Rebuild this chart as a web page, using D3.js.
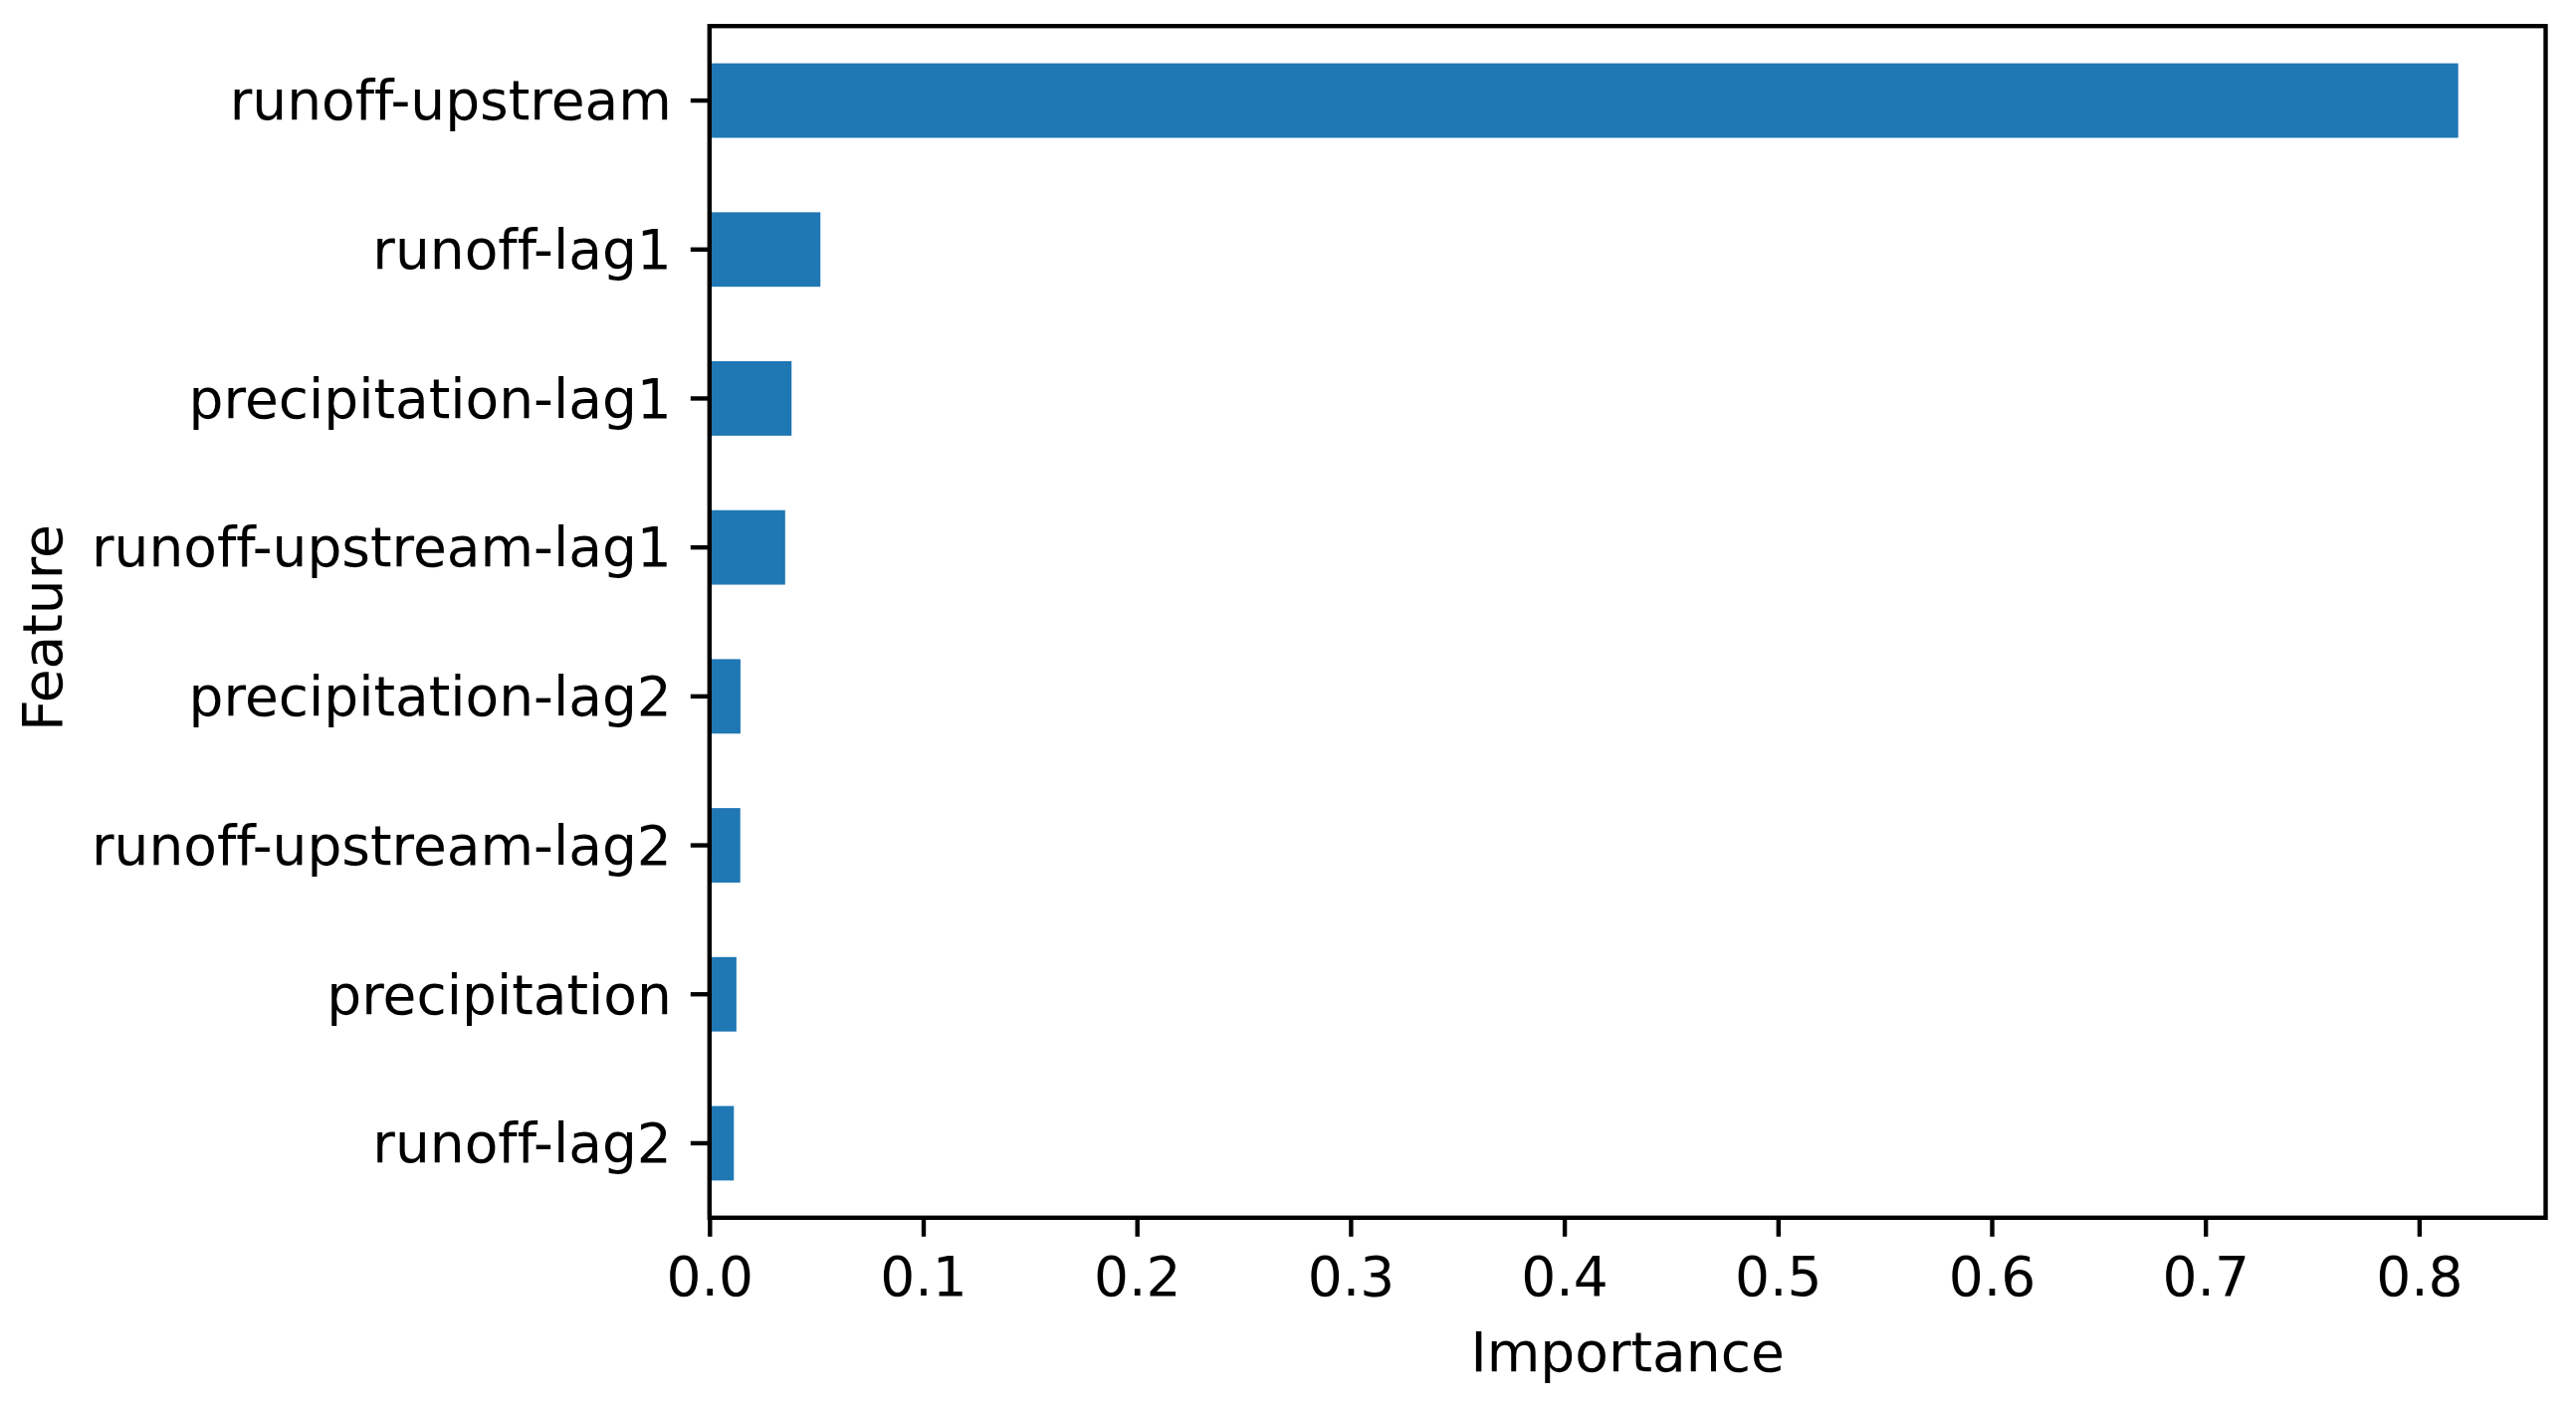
<!DOCTYPE html>
<html>
<head>
<meta charset="utf-8">
<script src="https://cdn.jsdelivr.net/npm/d3@7"></script>
<style>
  html, body { margin: 0; padding: 0; background: #fff; }
  svg { display: block; }
  text { font-family: "DejaVu Sans", sans-serif; fill: #000; font-variant-ligatures: none; font-feature-settings: "liga" 0, "clig" 0; }
</style>
</head>
<body>
<svg id="chart" width="2588" height="1411"></svg>
<script>
// ---- data ----
const features = [
  "runoff-upstream",
  "runoff-lag1",
  "precipitation-lag1",
  "runoff-upstream-lag1",
  "precipitation-lag2",
  "runoff-upstream-lag2",
  "precipitation",
  "runoff-lag2"
];
const importance = [0.8183, 0.0519, 0.0384, 0.0354, 0.0145, 0.0144, 0.0126, 0.0114];
const xTicks = [0.0, 0.1, 0.2, 0.3, 0.4, 0.5, 0.6, 0.7, 0.8];
const xLabel = "Importance";
const yLabel = "Feature";

// ---- layout ----
const W = 2588, H = 1411;
const L = 712.8, R = 2557.5, T = 26.2, B = 1223.8;
const fontSize = 55;
const tickLen = 19, tickPad = 19, lw = 4.4;

const svg = d3.select("#chart");
svg.append("rect").attr("width", W).attr("height", H).attr("fill", "#fff");

const xMax = d3.max(importance) * 1.05;
const x = d3.scaleLinear().domain([0, xMax]).range([L, R]);
const y = d3.scaleBand().domain(features).range([T, B]).paddingInner(0.5).paddingOuter(0.25);

const data = features.map((f, i) => ({ f, v: importance[i] }));

svg.append("g").selectAll("rect")
  .data(data).join("rect")
  .attr("x", x(0))
  .attr("y", d => y(d.f))
  .attr("width", d => x(d.v) - x(0))
  .attr("height", y.bandwidth())
  .attr("fill", "#1f77b4");

// x axis
const xAxis = d3.axisBottom(x).tickValues(xTicks).tickFormat(d3.format(".1f"))
  .tickSize(tickLen).tickPadding(tickPad).tickSizeOuter(0);
const gx = svg.append("g").attr("transform", `translate(0,${B})`).call(xAxis);
gx.select(".domain").remove();
gx.selectAll(".tick line").attr("stroke", "#000").attr("stroke-width", lw);
gx.selectAll(".tick text").attr("font-size", fontSize).attr("font-family", "DejaVu Sans")
  .attr("dy", null).attr("y", tickLen + tickPad + 40).attr("fill", "#000");

// y axis
const yAxis = d3.axisLeft(y).tickSize(tickLen).tickPadding(tickPad).tickSizeOuter(0);
const gy = svg.append("g").attr("transform", `translate(${L},0)`).call(yAxis);
gy.select(".domain").remove();
gy.selectAll(".tick line").attr("stroke", "#000").attr("stroke-width", lw);
gy.selectAll(".tick text").attr("font-size", fontSize).attr("font-family", "DejaVu Sans")
  .attr("dy", "0.35em").attr("fill", "#000");

// frame
svg.append("rect")
  .attr("x", L).attr("y", T).attr("width", R - L).attr("height", B - T)
  .attr("fill", "none").attr("stroke", "#000").attr("stroke-width", lw)
  .attr("stroke-linejoin", "miter");

// axis labels
svg.append("text")
  .attr("x", (L + R) / 2).attr("y", 1378)
  .attr("text-anchor", "middle").attr("font-size", fontSize)
  .text(xLabel);

svg.append("text")
  .attr("transform", `translate(62,${(T + B) / 2 + 6}) rotate(-90)`)
  .attr("text-anchor", "middle").attr("font-size", fontSize)
  .text(yLabel);
</script>
</body>
</html>
